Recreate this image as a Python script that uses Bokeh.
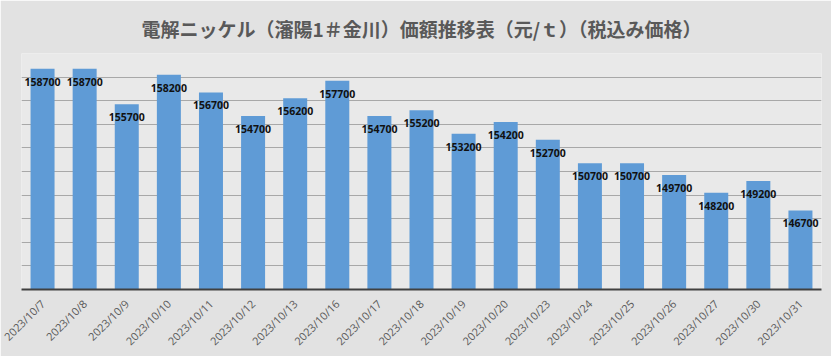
from bokeh.plotting import figure
from bokeh.models import ColumnDataSource, Range1d, SingleIntervalTicker
from bokeh.core.properties import value
from bokeh.embed import file_html
from bokeh.resources import INLINE
import math

dates = ["2023/10/7", "2023/10/8", "2023/10/9", "2023/10/10", "2023/10/11", "2023/10/12",
         "2023/10/13", "2023/10/16", "2023/10/17", "2023/10/18", "2023/10/19", "2023/10/20",
         "2023/10/23", "2023/10/24", "2023/10/25", "2023/10/26", "2023/10/27", "2023/10/30",
         "2023/10/31"]
prices = [158700, 158700, 155700, 158200, 156700, 154700, 156200, 157700, 154700, 155200,
          153200, 154200, 152700, 150700, 150700, 149700, 148200, 149200, 146700]
title_text = "電解ニッケル（瀋陽1＃金川）価額推移表（元/ｔ）（税込み価格）"

src = ColumnDataSource(dict(d=dates, v=prices, t=[str(x) for x in prices]))

p = figure(x_range=dates, y_range=Range1d(140000, 160000), width=831, height=356,
           output_backend="svg", toolbar_location=None, title=title_text,
           min_border_left=21, min_border_right=10, min_border_top=53, min_border_bottom=65)
p.background_fill_color = "#e9e9e9"
p.border_fill_color = "#e2e2e2"
p.outline_line_color = None

p.title.align = "center"
p.title.offset = -15
p.title.standoff = 23
p.title.text_font = "Noto Sans CJK JP"
p.title.text_font_style = "bold"
p.title.text_font_size = "19px"
p.title.text_color = "#595959"

p.vbar(x="d", top="v", bottom=140000, width=0.57, source=src,
       fill_color="#5f9bd6", line_color=None)
p.text(x="d", y="v", text="t", source=src, text_align="center", text_baseline="middle",
       y_offset=13, text_font=value("Open Sans"), text_font_style="bold",
       text_font_size="10.5px", text_color="#111111")

p.yaxis.visible = False
p.yaxis.ticker = SingleIntervalTicker(interval=2000)
p.ygrid.grid_line_color = "#a8a8a8"
p.ygrid.grid_line_width = 1
p.xgrid.grid_line_color = None

ax = p.xaxis[0]
ax.axis_line_color = "#404040"
ax.axis_line_width = 2
ax.major_tick_line_color = None
ax.minor_tick_line_color = None
ax.major_label_orientation = math.pi / 4
ax.major_label_text_font = "Open Sans"
ax.major_label_text_font_size = "11px"
ax.major_label_text_color = "#595959"
ax.major_label_standoff = 6

open("out.html", "w").write(file_html(p, INLINE))
